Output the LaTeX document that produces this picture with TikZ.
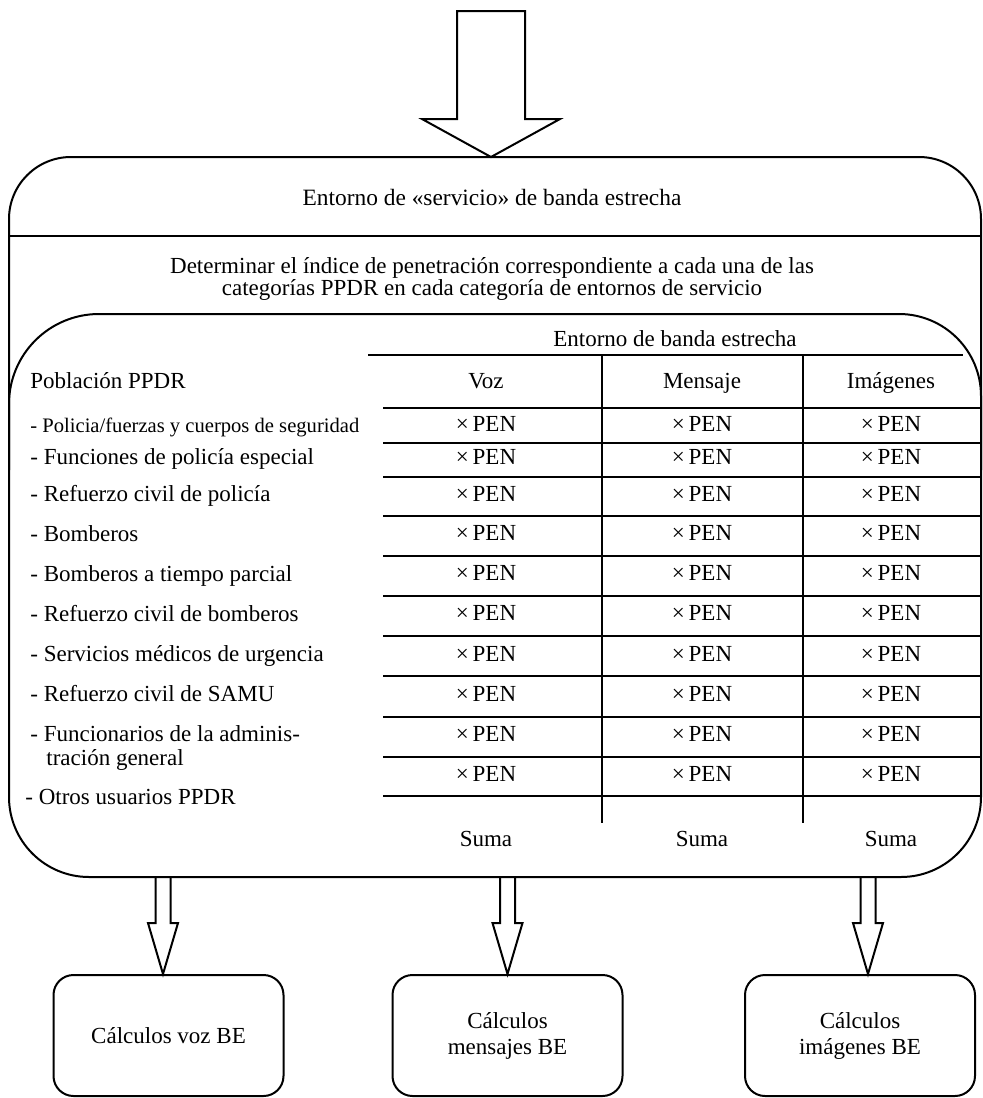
\documentclass[tikz,border=0pt]{standalone}
\usepackage{fontspec}
\setmainfont{Liberation Serif}
\usetikzlibrary{calc}

\begin{document}
\begin{tikzpicture}[
  x=0.5pt,
  y=-0.5pt,
  every node/.style={font=\fontsize{11.5}{11}\selectfont, inner sep=0pt},
  linea/.style={line width=1pt},
  regla/.style={line width=1.4pt},
  pequena/.style={font=\fontsize{10.3}{11}\selectfont},
  caja/.style={draw, line width=1pt, rounded corners=10pt, align=center,
    minimum width=115pt, minimum height=60.5pt,
    font=\fontsize{11.5}{13}\selectfont},
  flecha/.pic={\draw[linea] (-7.5,-98) -- (-7.5,-51) -- (-15,-51) -- (0,0)
    -- (15,-51) -- (7.5,-51) -- (7.5,-98);}
]
  \useasboundingbox (0,0) rectangle (982,1098);

  % Outer frame and inner cap
  \draw[linea] (9,500) [rounded corners=31pt] -- (9,157) -- (981,157) -- (981,500)
    [rounded corners=40pt] -- (981,877) -- (9,877) -- cycle;
  \draw[linea] (9,236) -- (981,236);
  \draw[linea] (9,470) [rounded corners=45pt] -- (9,314) -- (600,314)
    [rounded corners=41pt] -- (981,314) -- (981,470);

  % Input arrow
  \coordinate (entrada) at (491,157);
  \draw[linea] (entrada) -- ++(69,-38) -- ++(-35,0) -- ++(0,-108) -- ++(-68,0)
    -- ++(0,108) -- ++(-35,0) -- cycle;

  \node[font=\fontsize{11.7}{11}\selectfont] (titulo) at (492,197)
    {Entorno de «servicio» de banda estrecha};
  \node[align=center] (objetivo) at (492,279)
    {Determinar el índice de penetración correspondiente a cada una de las\\
     categorías PPDR en cada categoría de entornos de servicio};

  % Table
  \node (entorno) at (675,339) {Entorno de banda estrecha};
  \draw[regla] (368,355) -- (963,355);
  \draw[regla] (602,355) -- (602,823);
  \draw[regla] (803,355) -- (803,823);
  \foreach \ly in {408,443,477,516,556,596,636,676,717,757,796}
    \draw[regla] (383,\ly) -- (981,\ly);

  \node[anchor=mid west] (poblacion) at (30,384) {Población PPDR};
  \node[anchor=mid] (voz) at (486,384) {Voz};
  \node[anchor=mid] (mensaje) at (702,384) {Mensaje};
  \node[anchor=mid] (imagenes) at (891,384) {Imágenes};

  \foreach \fy [count=\k] in {427,460,497,536,576,616,657,697,737,777}{
    \node[anchor=mid] (v\k) at (486,\fy) {×\,PEN};
    \node[anchor=mid] (m\k) at (702,\fy) {×\,PEN};
    \node[anchor=mid] (i\k) at (891,\fy) {×\,PEN};
  }

  \node[anchor=mid west, pequena] (p1) at (30,428) {- Policia/fuerzas y cuerpos de seguridad};
  \foreach \ty/\txt [count=\k from 2] in {460/Funciones de policía especial,
      497/Refuerzo civil de policía, 537/Bomberos, 577/Bomberos a tiempo parcial,
      617/Refuerzo civil de bomberos, 657/Servicios médicos de urgencia,
      697/Refuerzo civil de SAMU, 737/Funcionarios de la adminis-}
    \node[anchor=mid west] (p\k) at (30,\ty) {- \txt};
  \node[anchor=mid west] (p10) at (46,761) {tración general};
  \node[anchor=mid west] (p11) at (25,800) {- Otros usuarios PPDR};

  \node[anchor=mid] (sumav) at (486,842) {Suma};
  \node[anchor=mid] (sumam) at (702,842) {Suma};
  \node[anchor=mid] (sumai) at (891,842) {Suma};

  % Results
  \node[caja] (cvoz) at (168.5,1035.5) {Cálculos voz BE};
  \node[caja] (cmensajes) at (507.5,1035.5) {Cálculos\\mensajes BE};
  \node[caja] (cimagenes) at (860,1035.5) {Cálculos\\imágenes BE};

  \pic at ($(cvoz.north)+(-5.5,0)$) {flecha};
  \pic at (cmensajes.north) {flecha};
  \pic at ($(cimagenes.north)+(8,0)$) {flecha};
\end{tikzpicture}
\end{document}
